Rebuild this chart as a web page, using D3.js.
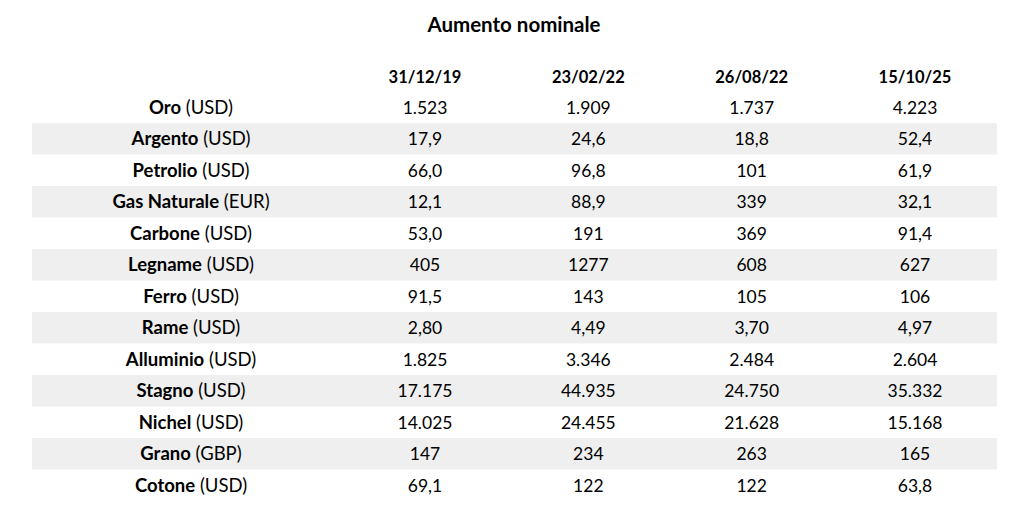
<!DOCTYPE html>
<html>
<head>
<meta charset="utf-8">
<script src="https://cdn.jsdelivr.net/npm/d3@7"></script>
<style>
  body { margin: 0; background: #fff; }
  text { font-family: Lato, sans-serif; fill: #000; }
</style>
</head>
<body>
<div id="chart"></div>
<script>
// data
var title = "Aumento nominale";
var dates = ["31/12/19", "23/02/22", "26/08/22", "15/10/25"];
var commodities = ["Oro", "Argento", "Petrolio", "Gas Naturale", "Carbone", "Legname", "Ferro", "Rame", "Alluminio", "Stagno", "Nichel", "Grano", "Cotone"];
var units = ["USD", "USD", "USD", "EUR", "USD", "USD", "USD", "USD", "USD", "USD", "USD", "GBP", "USD"];
var values = [
  ["1.523", "1.909", "1.737", "4.223"],
  ["17,9", "24,6", "18,8", "52,4"],
  ["66,0", "96,8", "101", "61,9"],
  ["12,1", "88,9", "339", "32,1"],
  ["53,0", "191", "369", "91,4"],
  ["405", "1277", "608", "627"],
  ["91,5", "143", "105", "106"],
  ["2,80", "4,49", "3,70", "4,97"],
  ["1.825", "3.346", "2.484", "2.604"],
  ["17.175", "44.935", "24.750", "35.332"],
  ["14.025", "24.455", "21.628", "15.168"],
  ["147", "234", "263", "165"],
  ["69,1", "122", "122", "63,8"]
];

var width = 1024, height = 529;
var svg = d3.select("#chart").append("svg")
  .attr("width", width).attr("height", height);

// rows
var y = d3.scaleBand().domain(d3.range(commodities.length))
  .range([91.5, 91.5 + 31.5 * commodities.length]);
// columns
var x = d3.scalePoint().domain(dates).range([425, 915]);
var labelX = 191;

svg.append("text")
  .attr("x", 514).attr("y", 32)
  .attr("text-anchor", "middle")
  .attr("font-size", 20.5).attr("font-weight", "bold")
  .text(title);

// stripes
svg.selectAll("rect.stripe")
  .data(d3.range(commodities.length).filter(i => i % 2 === 1))
  .enter().append("rect")
  .attr("x", 32).attr("width", 965)
  .attr("y", i => y(i)).attr("height", y.bandwidth())
  .attr("fill", "#efefef");

// header
svg.selectAll("text.head")
  .data(dates).enter().append("text")
  .attr("x", d => x(d)).attr("y", 83)
  .attr("text-anchor", "middle")
  .attr("font-size", 16.5).attr("font-weight", "bold")
  .text(d => d);

// labels
var lab = svg.selectAll("text.lab")
  .data(commodities).enter().append("text")
  .attr("x", labelX).attr("y", (d, i) => y(i) + y.bandwidth() / 2 + 6.5)
  .attr("text-anchor", "middle")
  .attr("font-size", 18.5);
lab.append("tspan").attr("font-weight", "bold").text(d => d);
lab.append("tspan").text((d, i) => " (" + units[i] + ")");

// cells
values.forEach(function(row, i) {
  svg.selectAll(null)
    .data(row).enter().append("text")
    .attr("x", (d, j) => x(dates[j]))
    .attr("y", y(i) + y.bandwidth() / 2 + 6.5)
    .attr("text-anchor", "middle")
    .attr("font-size", 17.5)
    .text(d => d);
});
</script>
</body>
</html>
